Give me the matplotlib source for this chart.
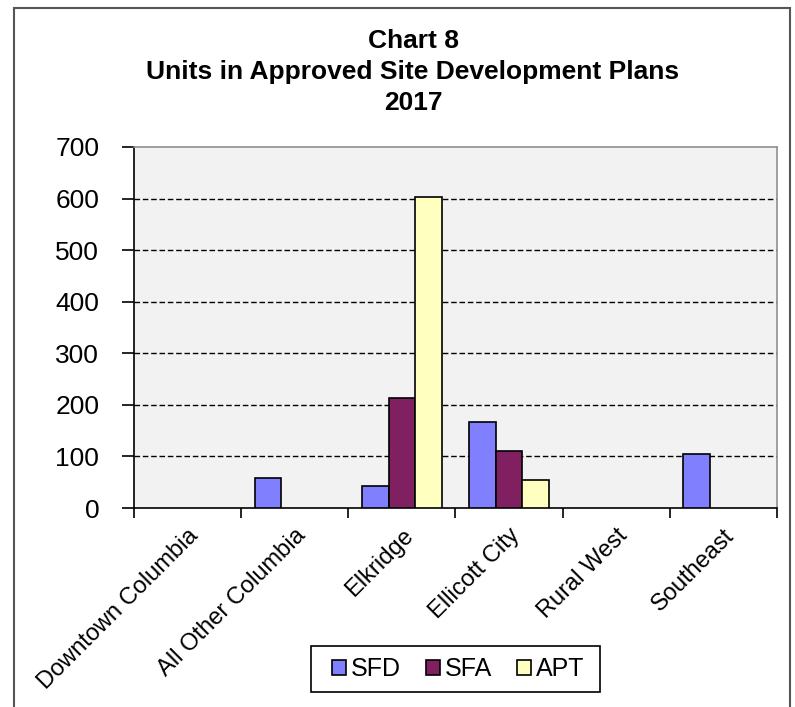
import matplotlib
matplotlib.use("Agg")
import matplotlib.pyplot as plt
import numpy as np
from matplotlib.patches import Rectangle, Patch

plt.rcParams['font.family'] = ['Liberation Sans', 'DejaVu Sans']

categories = ["Downtown Columbia", "All Other Columbia", "Elkridge", "Ellicott City", "Rural West", "Southeast"]
series_names = ["SFD", "SFA", "APT"]
sfd = [0, 59, 42, 166, 0, 105]
sfa = [0, 0, 213, 110, 0, 0]
apt = [0, 0, 603, 54, 0, 0]
colors = ["#8080ff", "#802060", "#ffffc0"]
yticks = [0, 100, 200, 300, 400, 500, 600, 700]

W, H = 795, 707
fig = plt.figure(figsize=(W / 100, H / 100), dpi=100)
fig.patch.set_facecolor("white")

# outer frame
fig.add_artist(Rectangle((14 / W, -0.01), (790 - 14) / W, 1 - 8 / H + 0.01,
                         transform=fig.transFigure, fill=False,
                         edgecolor="#555555", linewidth=1.5))

ax = fig.add_axes([134 / W, 1 - 508 / H, (777 - 134) / W, (508 - 147) / H])
ax.set_facecolor("#f2f2f2")

x = np.arange(len(categories))
bw = 0.25
for i, (vals, name) in enumerate(zip([sfd, sfa, apt], series_names)):
    bars = ax.bar(x + (i - 1) * bw, vals, width=bw, color=colors[i], edgecolor="black",
                  linewidth=1.2, label=name, zorder=3)
    for b, v in zip(bars, vals):
        if v == 0:
            b.set_visible(False)

ax.set_xlim(-0.5, len(categories) - 0.5)
ax.set_ylim(0, 700)
ax.set_yticks(yticks)
ax.set_yticklabels([str(v) for v in yticks], fontsize=19)
for v in yticks[1:-1]:
    ax.axhline(v, color="black", linestyle=(0, (4, 2)), linewidth=1, zorder=1)

ax.set_xticks(x)
ax.set_xticklabels(categories, fontsize=17, rotation=45, ha="right", va="top",
                   rotation_mode="anchor")
ax.set_xticks(np.arange(-0.5, len(categories)), minor=True)
ax.tick_params(axis="x", which="major", length=0, pad=12)
ax.tick_params(axis="x", which="minor", length=7, width=1.2, direction="out")
ax.tick_params(axis="y", length=9, width=1.2, direction="out", pad=16)

for s in ["left", "bottom"]:
    ax.spines[s].set_color("black")
    ax.spines[s].set_linewidth(1.2)
for s in ["top", "right"]:
    ax.spines[s].set_color("#909090")
    ax.spines[s].set_linewidth(1.2)

tx = 413 / W
fig.text(tx, 1 - 41 / H, "Chart 8", ha="center", va="center",
         fontsize=19, fontweight="bold")
fig.text(tx, 1 - 72 / H, "Units in Approved Site Development Plans", ha="center",
         va="center", fontsize=19, fontweight="bold")
fig.text(tx, 1 - 103 / H, "2017", ha="center", va="center",
         fontsize=19, fontweight="bold")

# legend box
fig.add_artist(Rectangle((311 / W, 1 - 692 / H), (600 - 311) / W, 46 / H,
                         transform=fig.transFigure, facecolor="white",
                         edgecolor="black", linewidth=1.2, zorder=4))
handles = [Patch(facecolor=c, edgecolor="black", linewidth=1.2, label=n)
           for c, n in zip(colors, series_names)]
leg = fig.legend(handles=handles, loc="center", bbox_to_anchor=(458 / W, 1 - 669 / H),
                 ncol=3, fontsize=18, frameon=False,
                 handlelength=0.55, handleheight=0.55, handletextpad=0.2,
                 columnspacing=1.0, borderpad=0.2, borderaxespad=0)
leg.set_zorder(5)

fig.savefig("out.png", dpi=100, facecolor="white")
